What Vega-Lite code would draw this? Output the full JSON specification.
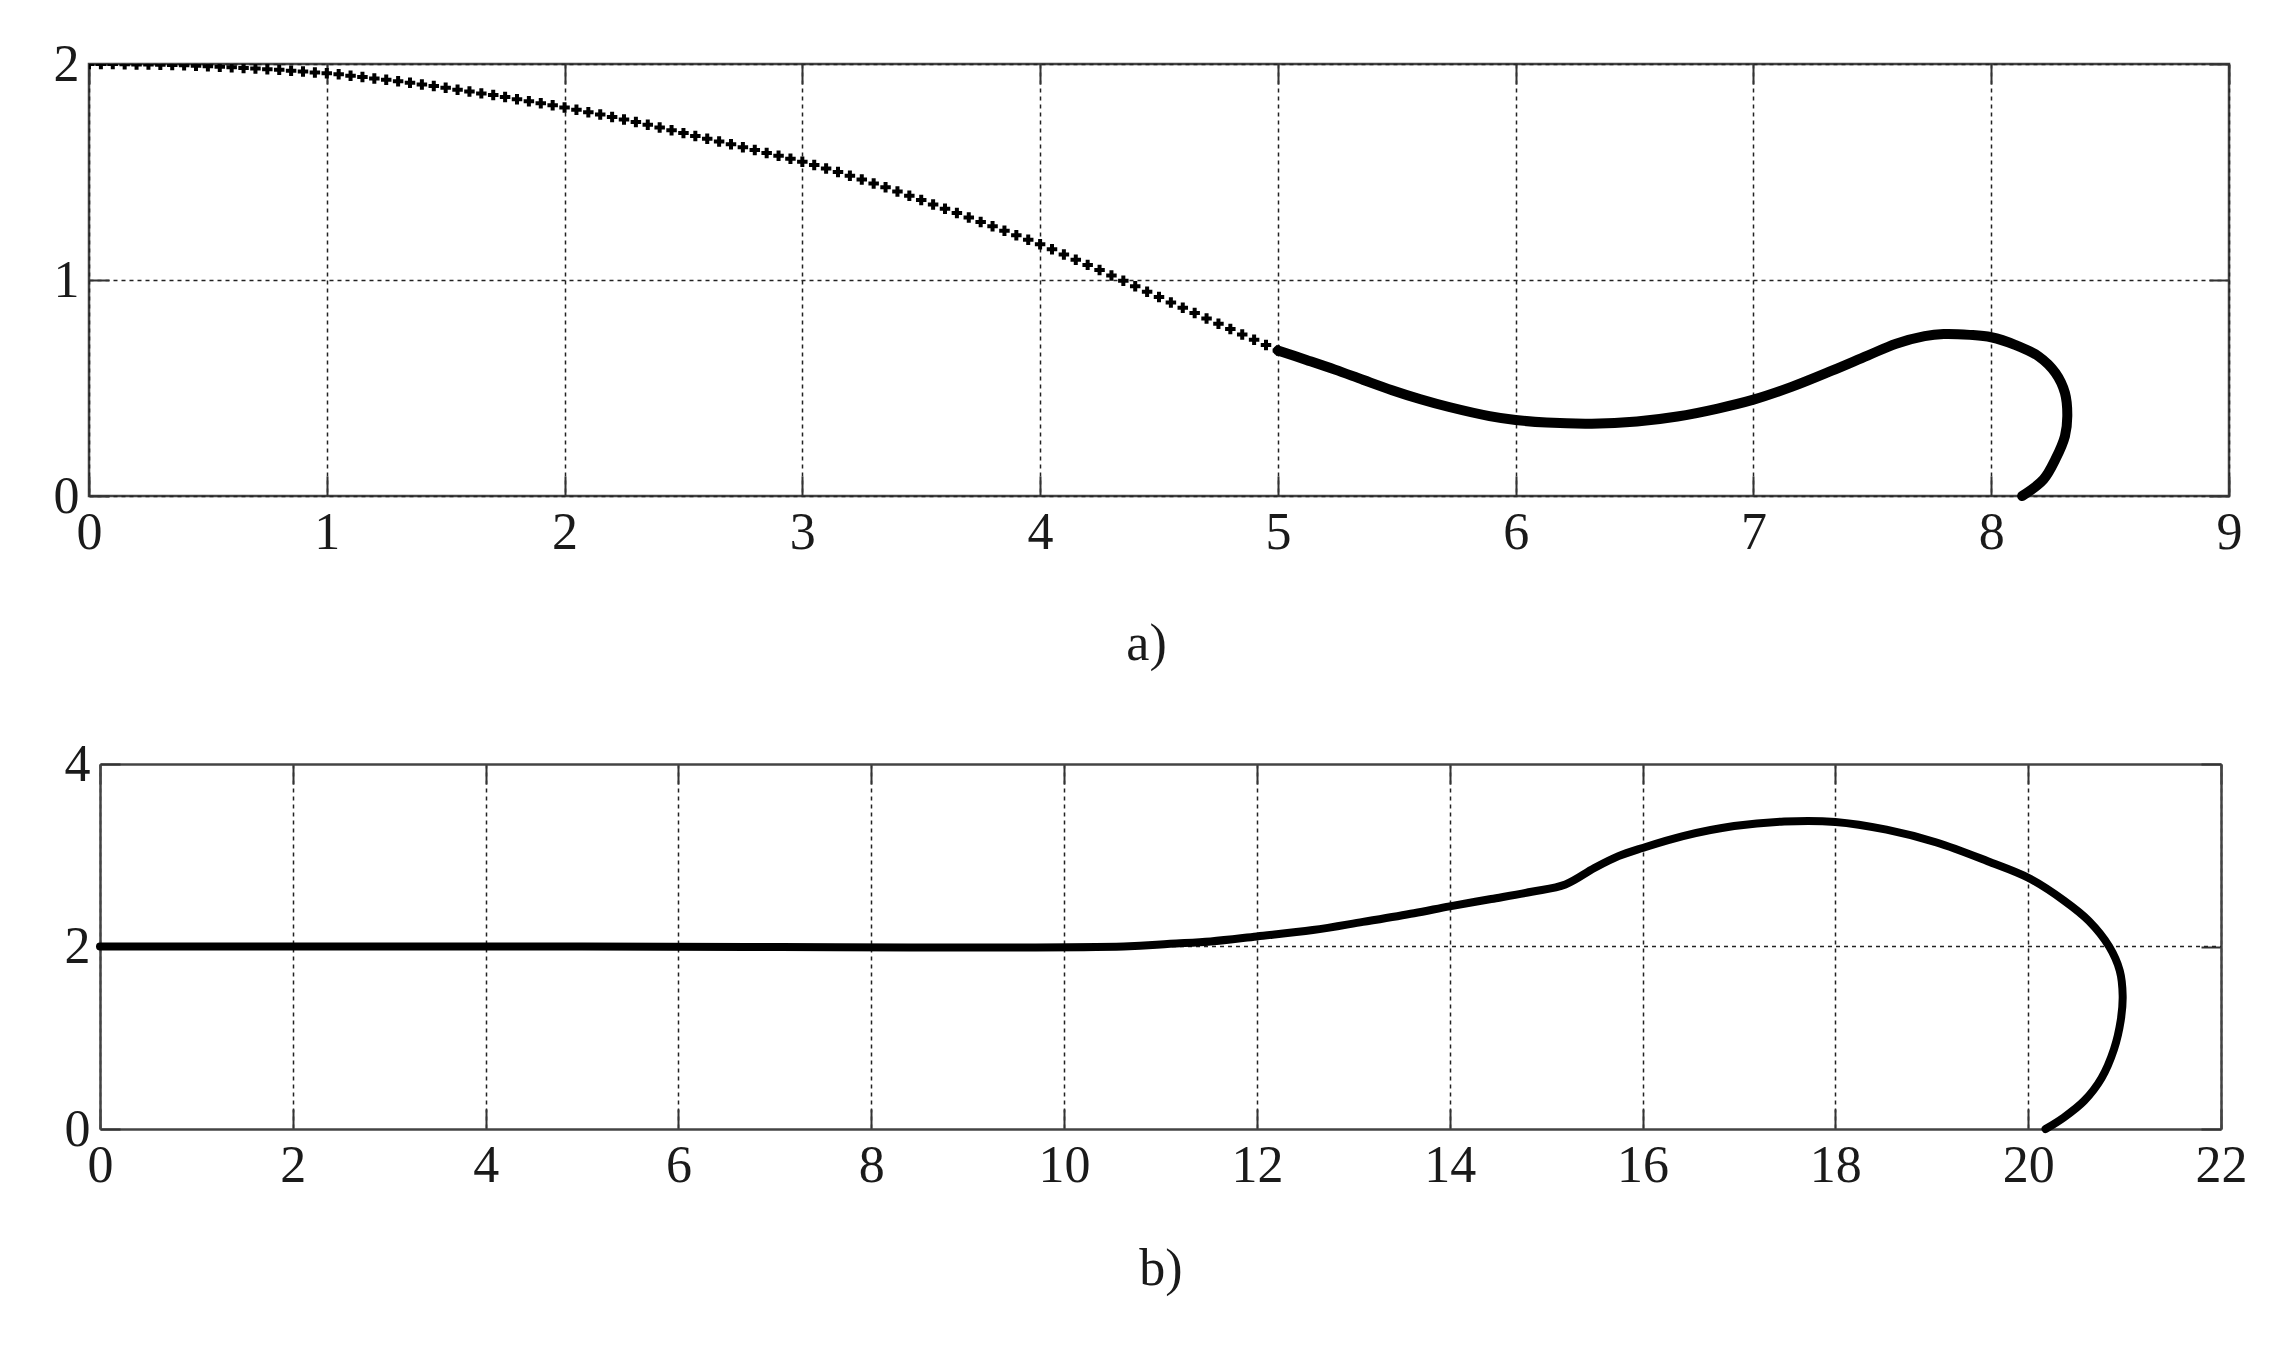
{
  "$schema": "https://vega.github.io/schema/vega-lite/v6.json",
  "background": "white",
  "padding": {"left": 51, "top": 36, "right": 10, "bottom": 10},
  "spacing": 67,
  "config": {
    "view": {"stroke": "#444", "strokeWidth": 2.5},
    "font": "Liberation Serif",
    "axis": {
      "labelFont": "Liberation Serif", "labelFontSize": 52, "labelColor": "#1a1a1a",
      "tickColor": "#333", "tickWidth": 2, "tickSize": -20,
      "domain": false, "domainColor": "#444", "domainWidth": 2.5,
      "gridColor": "#222", "gridDash": [4, 4], "gridWidth": 1.5, "gridOpacity": 1,
      "titleFont": "Liberation Serif", "titleFontSize": 52, "titleFontWeight": "normal", "titleColor": "#1a1a1a",
      "labelFlush": false, "labelOverlap": false, "labelBound": false
    }
  },
  "datasets": {
    "a_markers": [
      {"x":0.00,"y":2.000},{"x":0.05,"y":2.000},{"x":0.10,"y":2.000},{"x":0.15,"y":1.999},{"x":0.20,"y":1.998},
      {"x":0.25,"y":1.998},{"x":0.30,"y":1.996},{"x":0.35,"y":1.995},{"x":0.40,"y":1.994},{"x":0.45,"y":1.992},
      {"x":0.50,"y":1.990},{"x":0.55,"y":1.987},{"x":0.60,"y":1.985},{"x":0.65,"y":1.982},{"x":0.70,"y":1.979},
      {"x":0.75,"y":1.976},{"x":0.80,"y":1.973},{"x":0.85,"y":1.969},{"x":0.90,"y":1.965},{"x":0.95,"y":1.961},
      {"x":1.00,"y":1.957},{"x":1.05,"y":1.952},{"x":1.10,"y":1.946},{"x":1.15,"y":1.940},{"x":1.20,"y":1.933},
      {"x":1.25,"y":1.927},{"x":1.30,"y":1.920},{"x":1.35,"y":1.913},{"x":1.40,"y":1.905},{"x":1.45,"y":1.898},
      {"x":1.50,"y":1.890},{"x":1.55,"y":1.881},{"x":1.60,"y":1.873},{"x":1.65,"y":1.864},{"x":1.70,"y":1.856},
      {"x":1.75,"y":1.847},{"x":1.80,"y":1.837},{"x":1.85,"y":1.828},{"x":1.90,"y":1.818},{"x":1.95,"y":1.809},
      {"x":2.00,"y":1.799},{"x":2.05,"y":1.788},{"x":2.10,"y":1.777},{"x":2.15,"y":1.766},{"x":2.20,"y":1.755},
      {"x":2.25,"y":1.743},{"x":2.30,"y":1.731},{"x":2.35,"y":1.719},{"x":2.40,"y":1.706},{"x":2.45,"y":1.693},
      {"x":2.50,"y":1.680},{"x":2.55,"y":1.667},{"x":2.60,"y":1.654},{"x":2.65,"y":1.641},{"x":2.70,"y":1.628},
      {"x":2.75,"y":1.615},{"x":2.80,"y":1.602},{"x":2.85,"y":1.588},{"x":2.90,"y":1.575},{"x":2.95,"y":1.561},
      {"x":3.00,"y":1.548},{"x":3.05,"y":1.532},{"x":3.10,"y":1.516},{"x":3.15,"y":1.500},{"x":3.20,"y":1.483},
      {"x":3.25,"y":1.465},{"x":3.30,"y":1.447},{"x":3.35,"y":1.429},{"x":3.40,"y":1.410},{"x":3.45,"y":1.390},
      {"x":3.50,"y":1.370},{"x":3.55,"y":1.350},{"x":3.60,"y":1.330},{"x":3.65,"y":1.310},{"x":3.70,"y":1.289},
      {"x":3.75,"y":1.269},{"x":3.80,"y":1.249},{"x":3.85,"y":1.228},{"x":3.90,"y":1.207},{"x":3.95,"y":1.186},
      {"x":4.00,"y":1.166},{"x":4.05,"y":1.142},{"x":4.10,"y":1.118},{"x":4.15,"y":1.094},{"x":4.20,"y":1.070},
      {"x":4.25,"y":1.046},{"x":4.30,"y":1.021},{"x":4.35,"y":0.996},{"x":4.40,"y":0.971},{"x":4.45,"y":0.946},
      {"x":4.50,"y":0.921},{"x":4.55,"y":0.896},{"x":4.60,"y":0.871},{"x":4.65,"y":0.847},{"x":4.70,"y":0.822},
      {"x":4.75,"y":0.797},{"x":4.80,"y":0.773},{"x":4.85,"y":0.748},{"x":4.90,"y":0.723},{"x":4.95,"y":0.699},
      {"x":5.00,"y":0.674}
    ],
    "a_line": [
      {"i":1,"x":5.00,"y":0.674},{"i":2,"x":5.12,"y":0.630},{"i":3,"x":5.24,"y":0.585},{"i":4,"x":5.36,"y":0.537},
      {"i":5,"x":5.48,"y":0.490},{"i":6,"x":5.60,"y":0.448},{"i":7,"x":5.72,"y":0.412},{"i":8,"x":5.89,"y":0.370},
      {"i":9,"x":6.00,"y":0.352},{"i":10,"x":6.13,"y":0.340},{"i":11,"x":6.32,"y":0.335},{"i":12,"x":6.51,"y":0.345},
      {"i":13,"x":6.68,"y":0.368},{"i":14,"x":6.85,"y":0.405},{"i":15,"x":7.00,"y":0.446},{"i":16,"x":7.16,"y":0.505},
      {"i":17,"x":7.33,"y":0.580},{"i":18,"x":7.48,"y":0.650},{"i":19,"x":7.60,"y":0.705},{"i":20,"x":7.72,"y":0.740},
      {"i":21,"x":7.80,"y":0.750},{"i":22,"x":7.91,"y":0.746},{"i":23,"x":8.00,"y":0.735},{"i":24,"x":8.10,"y":0.700},
      {"i":25,"x":8.20,"y":0.646},{"i":26,"x":8.27,"y":0.570},{"i":27,"x":8.31,"y":0.477},{"i":28,"x":8.32,"y":0.370},
      {"i":29,"x":8.31,"y":0.277},{"i":30,"x":8.27,"y":0.170},{"i":31,"x":8.22,"y":0.077},{"i":32,"x":8.13,"y":0.000}
    ],
    "b_line": [
      {"i":1,"x":0.0,"y":2.0},{"i":2,"x":5.0,"y":2.0},{"i":3,"x":10.62,"y":2.0},{"i":4,"x":11.1,"y":2.03},
      {"i":5,"x":11.52,"y":2.055},{"i":6,"x":12.0,"y":2.11},{"i":7,"x":12.58,"y":2.18},{"i":8,"x":13.1,"y":2.27},
      {"i":9,"x":13.63,"y":2.365},{"i":10,"x":14.0,"y":2.44},{"i":11,"x":14.43,"y":2.52},{"i":12,"x":14.85,"y":2.6},
      {"i":13,"x":15.2,"y":2.68},{"i":14,"x":15.5,"y":2.86},{"i":15,"x":15.75,"y":2.99},{"i":16,"x":16.0,"y":3.08},
      {"i":17,"x":16.42,"y":3.21},{"i":18,"x":16.95,"y":3.32},{"i":19,"x":17.47,"y":3.37},{"i":20,"x":18.0,"y":3.365},
      {"i":21,"x":18.53,"y":3.28},{"i":22,"x":19.05,"y":3.14},{"i":23,"x":19.58,"y":2.935},{"i":24,"x":20.0,"y":2.754},
      {"i":25,"x":20.37,"y":2.505},{"i":26,"x":20.63,"y":2.28},{"i":27,"x":20.84,"y":2.0},{"i":28,"x":20.95,"y":1.735},
      {"i":29,"x":20.98,"y":1.46},{"i":30,"x":20.96,"y":1.19},{"i":31,"x":20.89,"y":0.874},{"i":32,"x":20.76,"y":0.557},
      {"i":33,"x":20.58,"y":0.308},{"i":34,"x":20.37,"y":0.127},{"i":35,"x":20.18,"y":0.0}
    ],
    "b_grid": [
      {"x":0,"x2":22,"y":2}
    ]
  },
  "vconcat": [
    {
      "width": 2140,
      "height": 432,
      "layer": [
        {
          "data": {"name": "a_markers"},
          "mark": {"type": "point", "shape": "M-1,0H1M0,-1V1", "size": 110, "filled": false, "stroke": "#000", "strokeWidth": 4, "opacity": 1, "clip": true},
          "encoding": {
            "x": {"field": "x", "type": "quantitative", "scale": {"domain": [0, 9], "nice": false, "zero": false},
                  "axis": {"orient": "bottom", "values": [0,1,2,3,4,5,6,7,8,9], "labelExpr": "'' + datum.value", "grid": true, "labelPadding": 31, "title": "a)", "titlePadding": 60, "titleX": 1057}},
            "y": {"field": "y", "type": "quantitative", "scale": {"domain": [0, 2], "nice": false},
                  "axis": {"orient": "left", "values": [0,1,2], "labelExpr": "'' + datum.value", "grid": true, "labelPadding": 30, "title": null}}
          }
        },
        {
          "data": {"name": "a_line"},
          "mark": {"type": "line", "stroke": "#000", "strokeWidth": 10, "strokeCap": "round", "strokeJoin": "round", "interpolate": "catmull-rom"},
          "encoding": {
            "x": {"field": "x", "type": "quantitative", "scale": {"domain": [0, 9], "nice": false, "zero": false},
                  "axis": {"orient": "top", "values": [0,1,2,3,4,5,6,7,8,9], "grid": false, "labels": false, "title": null}},
            "y": {"field": "y", "type": "quantitative", "scale": {"domain": [0, 2], "nice": false},
                  "axis": {"orient": "right", "values": [0,1,2], "grid": false, "labels": false, "title": null}},
            "order": {"field": "i", "type": "quantitative"}
          }
        }
      ],
      "resolve": {"axis": {"x": "independent", "y": "independent"}}
    },
    {
      "width": 2132,
      "height": 365,
      "view": {"stroke": null},
      "layer": [
        {
          "data": {"name": "b_grid"},
          "mark": {"type": "rule", "stroke": "#222", "strokeWidth": 1.5, "strokeDash": [4, 4]},
          "encoding": {
            "x": {"field": "x", "type": "quantitative", "scale": {"domain": [0, 22], "nice": false, "zero": false, "range": [11, 2132]},
                  "axis": {"orient": "bottom", "values": [0,2,4,6,8,10,12,14,16,18,20,22], "labelExpr": "'' + datum.value", "grid": true, "domain": true, "labelPadding": 31, "title": "b)", "titlePadding": 52}},
            "x2": {"field": "x2"},
            "y": {"field": "y", "type": "quantitative", "scale": {"domain": [0, 4], "nice": false},
                  "axis": {"orient": "left", "offset": -11, "values": [0,2,4], "labelExpr": "'' + datum.value", "grid": false, "domain": true, "labelPadding": 30, "title": null}}
          }
        },
        {
          "data": {"name": "b_line"},
          "mark": {"type": "line", "stroke": "#000", "strokeWidth": 8, "strokeCap": "round", "strokeJoin": "round", "interpolate": "catmull-rom"},
          "encoding": {
            "x": {"field": "x", "type": "quantitative", "scale": {"domain": [0, 22], "nice": false, "zero": false, "range": [11, 2132]},
                  "axis": {"orient": "top", "values": [0,2,4,6,8,10,12,14,16,18,20,22], "grid": false, "labels": false, "domain": true, "title": null}},
            "y": {"field": "y", "type": "quantitative", "scale": {"domain": [0, 4], "nice": false},
                  "axis": {"orient": "right", "values": [0,2,4], "grid": false, "labels": false, "domain": true, "title": null}},
            "order": {"field": "i", "type": "quantitative"}
          }
        }
      ],
      "resolve": {"axis": {"x": "independent", "y": "independent"}}
    }
  ]
}
